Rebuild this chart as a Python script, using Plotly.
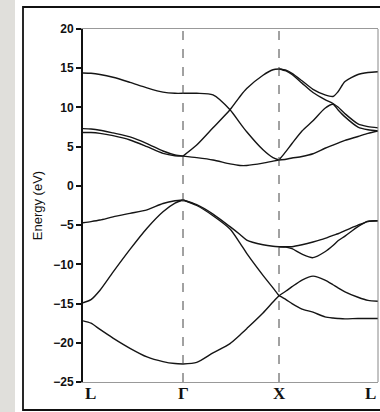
import plotly.graph_objects as go

# ---- axis data ----
k_ticks = [0.0, 1.0, 1.96, 2.95]
k_labels = ['L', 'Γ', 'X', 'L']
y_ticks = [-25, -20, -15, -10, -5, 0, 5, 10, 15, 20]

# ---- L -> Gamma ----
k_LG = [0.0, 0.08, 0.17, 0.30, 0.47, 0.64, 0.80, 0.92, 1.0]
LG_c_top = [14.4, 14.35, 14.2, 13.85, 13.2, 12.5, 11.95, 11.8, 11.8]
LG_c_mid1 = [7.3, 7.25, 7.1, 6.75, 6.25, 5.4, 4.45, 3.95, 3.8]
LG_c_mid2 = [6.8, 6.8, 6.7, 6.4, 5.85, 5.0, 4.15, 3.85, 3.8]
LG_v1 = [-4.7, -4.55, -4.35, -3.95, -3.5, -3.05, -2.25, -1.9, -1.8]
LG_v2 = [-14.9, -14.5, -13.3, -11.0, -8.1, -5.4, -3.3, -2.2, -1.8]
LG_v3 = [-17.2, -17.5, -18.3, -19.4, -20.7, -21.8, -22.4, -22.65, -22.7]

# ---- Gamma -> X ----
k_GX = [1.0, 1.137, 1.30, 1.47, 1.57, 1.637, 1.80, 1.90, 1.96]
GX_c_fall = [11.8, 11.8, 11.6, 9.7, 8.0, 6.9, 4.6, 3.6, 3.3]
GX_c_rise = [3.8, 5.2, 7.4, 9.7, 11.4, 12.4, 14.1, 14.8, 14.9]
GX_c_low = [3.8, 3.6, 3.3, 2.8, 2.6, 2.6, 2.9, 3.15, 3.3]
GX_v1 = [-1.8, -2.4, -3.6, -5.2, -6.2, -6.9, -7.5, -7.7, -7.75]
GX_v2 = [-1.8, -2.5, -3.8, -5.5, -7.3, -8.6, -11.4, -13.0, -14.0]
GX_v3 = [-22.7, -22.5, -21.3, -20.1, -19.0, -18.2, -16.2, -14.8, -14.0]

# ---- X -> L ----
k_XL = [1.96, 2.03, 2.09, 2.19, 2.30, 2.42, 2.50, 2.55, 2.62, 2.75, 2.85, 2.95]
XL_c_a = [14.9, 14.75, 14.35, 13.4, 12.3, 11.6, 11.4, 12.0, 13.3, 14.2, 14.45, 14.55]
XL_c_b = [14.9, 14.65, 14.2, 13.1, 11.9, 11.0, 10.5, 10.05, 9.2, 7.9, 7.55, 7.4]
XL_c_c = [3.3, 4.4, 5.4, 7.0, 8.3, 9.9, 10.4, 9.7, 8.8, 7.5, 7.15, 7.0]
XL_c_d = [3.3, 3.4, 3.55, 3.75, 4.1, 4.8, 5.2, 5.45, 5.8, 6.3, 6.7, 7.0]
XL_v_a = [-7.75, -7.75, -7.75, -7.5, -7.15, -6.7, -6.3, -6.1, -5.7, -5.0, -4.55, -4.45]
XL_v_b = [-7.75, -7.8, -8.0, -8.7, -9.15, -8.4, -7.6, -7.0, -6.4, -5.2, -4.5, -4.45]
XL_v_c = [-14.0, -13.4, -12.85, -12.0, -11.5, -12.0, -12.6, -13.0, -13.5, -14.2, -14.6, -14.7]
XL_v_d = [-14.0, -14.5, -15.0, -15.7, -16.1, -16.7, -16.85, -16.9, -16.95, -16.9, -16.9, -16.9]

segments = [
    (k_LG, [LG_c_top, LG_c_mid1, LG_c_mid2, LG_v1, LG_v2, LG_v3]),
    (k_GX, [GX_c_fall, GX_c_rise, GX_c_low, GX_v1, GX_v2, GX_v3]),
    (k_XL, [XL_c_a, XL_c_b, XL_c_c, XL_c_d, XL_v_a, XL_v_b, XL_v_c, XL_v_d]),
]

fig = go.Figure()
for ks, bands in segments:
    for e in bands:
        fig.add_trace(go.Scatter(
            x=ks, y=e, mode='lines',
            line=dict(color='#151515', width=1.4, shape='spline', smoothing=0.7),
            hoverinfo='skip'))

# plot area in pixels: x 83..378, y 29..382
def px_x(px):
    return (px - 83) / 295.0

def px_y(py):
    return (382 - py) / 353.0

shapes = [
    # gray strip on the left
    dict(type='rect', xref='paper', yref='paper', x0=px_x(-2), x1=px_x(15),
         y0=px_y(414), y1=px_y(-2), fillcolor='#e0dfdb', line=dict(width=0), layer='below'),
    # framing box
    dict(type='rect', xref='paper', yref='paper', x0=px_x(23), x1=px_x(384),
         y0=px_y(410), y1=px_y(7), fillcolor='rgba(0,0,0,0)',
         line=dict(color='#111', width=1.8), layer='below'),
    # right frame line
    dict(type='line', xref='paper', yref='paper', x0=1, x1=1, y0=0, y1=1,
         line=dict(color='#888', width=1)),
]
for kv in k_ticks[1:3]:
    shapes.append(dict(type='line', xref='x', yref='paper', x0=kv, x1=kv, y0=0, y1=1,
                       line=dict(color='#444', width=1, dash='dash')))

annotations = []
anchors = ['left', 'center', 'center', 'right']
for kv, lab, anc in zip(k_ticks, k_labels, anchors):
    annotations.append(dict(x=kv, y=px_y(393), xref='x', yref='paper', text=lab,
                            showarrow=False, xanchor=anc, yanchor='middle',
                            font=dict(family='Liberation Serif', size=17, color='#111', weight='bold')))

fig.update_layout(
    width=380, height=412,
    margin=dict(l=83, r=2, t=29, b=30),
    paper_bgcolor='white', plot_bgcolor='white',
    showlegend=False,
    shapes=shapes,
    annotations=annotations,
    xaxis=dict(range=[0, 2.95], showgrid=False, zeroline=False, showline=True,
               linecolor='#999', linewidth=1, mirror=True,
               tickvals=[], showticklabels=False),
    yaxis=dict(range=[-25, 20], tickvals=y_ticks, ticks='outside', ticklen=5,
               tickwidth=1.5, tickcolor='#111', showline=True, linecolor='#111',
               linewidth=2, zeroline=False, showgrid=False,
               tickfont=dict(family='Arial, Liberation Sans', size=12, color='#111', weight='bold'),
               title=dict(text='Energy (eV)', standoff=8,
                          font=dict(family='Arial, Liberation Sans', size=13, color='#111'))),
)

fig.write_html('out.html')
